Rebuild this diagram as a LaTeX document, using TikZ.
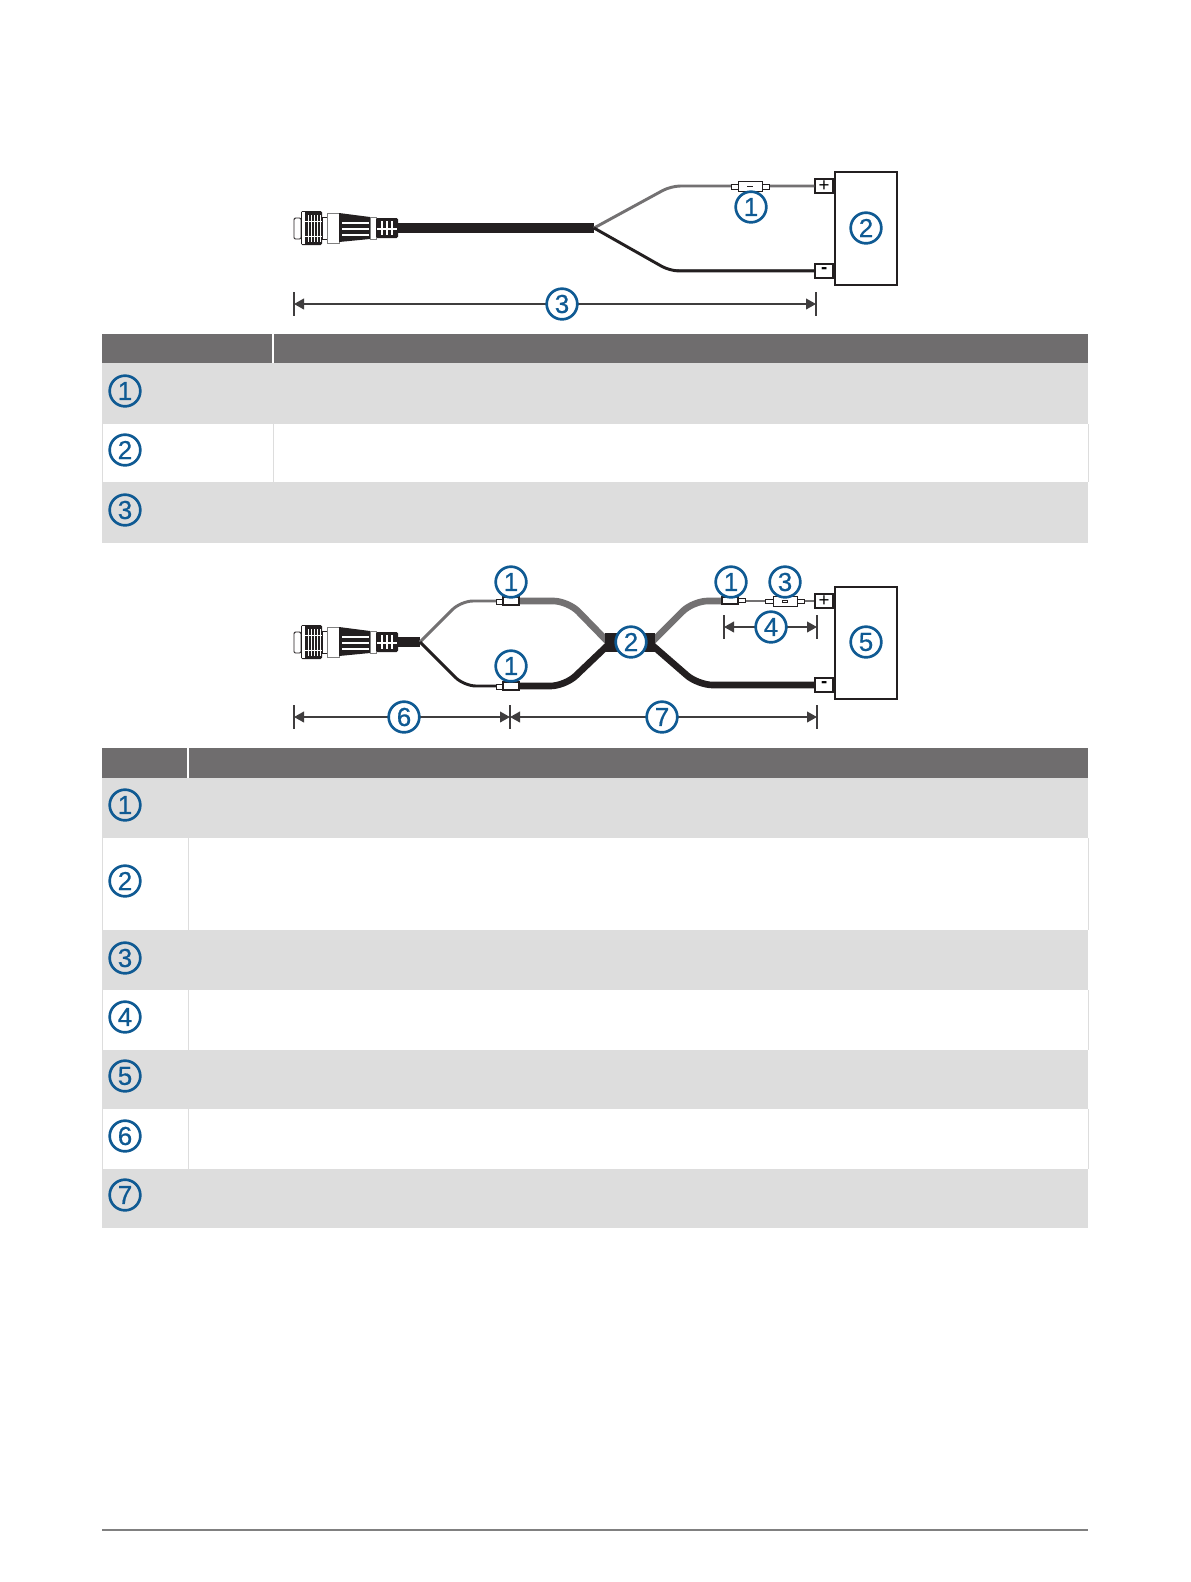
\documentclass[tikz,border=0pt]{standalone}
\usepackage{fontspec}
\setmainfont{Liberation Sans}
\newfontfamily\calloutfont[FakeBold=0.7]{Liberation Sans}
\usetikzlibrary{arrows.meta}
\definecolor{calloutblue}{HTML}{0F5A93}
\definecolor{headgray}{HTML}{6F6D6E}
\definecolor{rowgray}{HTML}{DDDDDD}
\definecolor{wiregray}{HTML}{737172}
\definecolor{wireblack}{HTML}{231F20}
\definecolor{dimgray}{HTML}{3F3D3E}
\tikzset{
  callout/.style={circle,draw=calloutblue,line width=2pt,text=calloutblue,minimum size=23pt,inner sep=0pt,font=\calloutfont\fontsize{19.5}{19.5}\selectfont},
  calloutw/.style={callout,fill=white},
  dimline/.style={draw=dimgray,line width=1.4pt,{Triangle[length=7.5pt,width=8pt]}-{Triangle[length=7.5pt,width=8pt]}},
  dimtick/.style={draw=dimgray,line width=1.3pt},
  devbox/.style={draw=wireblack,line width=1.4pt,fill=white,inner sep=0pt,minimum width=46.5pt},
  termbox/.style={draw=wireblack,line width=1.3pt,fill=white,inner sep=0pt,minimum width=13.5pt,minimum height=11pt,font=\fontsize{14}{14}\selectfont},
  fusepart/.style={draw=wireblack,line width=.7pt,fill=white},
  thinwire/.style={line width=2.2pt,rounded corners=7pt},
  midwire/.style={line width=2.2pt,rounded corners=9pt},
  thickwire/.style={line width=5pt,rounded corners=11pt},
  sleeve/.style={fill=wireblack,draw=none,inner sep=0pt},
}
\newcommand{\plugat}[2]{%
\begin{scope}[shift={(#1,#2)}]
  \draw[wireblack,line width=.7pt,fill=white,rounded corners=1pt] (0,-10) rectangle (7,11);
  \fill[wireblack,rounded corners=1pt] (7,-17) rectangle (28,17);
  \fill[white] (8,-16) rectangle (11,16);
  \foreach \xx in {14,17,20,23,26}{\draw[white,line width=.4pt] (\xx,-13) -- (\xx,14);}
  \draw[white,line width=.4pt] (11,-7) -- (28,-7) (11,8) -- (28,8);
  \draw[wireblack,line width=.7pt,fill=white] (28,-11) rectangle (33,11);
  \draw[gray,line width=.7pt,fill=white] (33,-15) rectangle (45,15);
  \fill[wireblack] (45,-15) -- (76,-11) -- (76,11) -- (45,14) -- cycle;
  \foreach \yy in {-5,1,7}{\draw[white,line width=.9pt] (48,\yy) -- (75,\yy);}
  \draw[gray,line width=.7pt,fill=white] (76,-11) rectangle (82,11);
  \fill[wireblack,rounded corners=1pt] (82,-10) rectangle (104,10);
  \foreach \xx in {88,93,98}{\draw[white,line width=.8pt] (\xx,-7) -- (\xx,7);}
  \draw[white,line width=.8pt] (83,1) -- (103,1);
\end{scope}}
\begin{document}
\begin{tikzpicture}[x=.75pt,y=-.75pt]
\useasboundingbox (0,0) rectangle (1191,1582);
\fill[white] (0,0) rectangle (1191,1582);

% ---------- first diagram ----------
\plugat{294}{228}
\node[sleeve,minimum width=147pt,minimum height=8pt,anchor=west] (cableA) at (398,228) {};
\coordinate (splitA) at (594,228);
\node[devbox,minimum height=84.75pt,anchor=north west] (devA) at (834,171) {};
\node[termbox,anchor=east] (plusA) at (834,186) {+};
\node[termbox,anchor=east] (minusA) at (834,271) {\textbf{-}};
\coordinate (bendA1) at (671,186);
\coordinate (bendA2) at (670,271);
\draw[wiregray,thinwire] (splitA) -- (bendA1) -- (plusA.west);
\draw[wiregray,line width=1pt] ([yshift=1pt]bendA2) -- ([yshift=1pt]minusA.west);
\draw[wireblack,thinwire] (splitA) -- (bendA2) -- (minusA.west);
\draw[fusepart] (731,184) rectangle (769,189);
\draw[fusepart] (738,181) rectangle (762,191);
\draw[wireblack,line width=.7pt] (747,186) -- (753,186);
\coordinate (dA1) at (294,304);
\coordinate (dA2) at (816,304);
\draw[dimtick] (294,292) -- (294,316);
\draw[dimtick] (816,292) -- (816,316);
\draw[dimline] (dA1) -- (dA2);
\node[calloutw] (a3) at (562,304) {3};
\node[callout] (a1) at (751,207) {1};
\node[callout] (a2) at (866,228) {2};

% ---------- first table ----------
\fill[headgray] (102,334) rectangle (1088,363);
\fill[rowgray] (102,363) rectangle (1088,424);
\fill[rowgray] (102,482) rectangle (1088,543);
\draw[rowgray,line width=.7pt] (102,424) -- (102,482) (1088,424) -- (1088,482) (273,424) -- (273,482);
\draw[white,line width=1pt] (273,334) -- (273,363);
\node[callout] (ta1) at (125,391) {1};
\node[callout] (ta2) at (125,450) {2};
\node[callout] (ta3) at (125,510) {3};

% ---------- second diagram ----------
\plugat{294}{642}
\node[sleeve,minimum width=16.5pt,minimum height=7.5pt,anchor=west] (stemB) at (398,642) {};
\node[devbox,minimum height=84pt,anchor=north west] (devB) at (834,586) {};
\node[termbox,anchor=east] (plusB) at (834,601) {+};
\node[termbox,anchor=east] (minusB) at (834,685) {\textbf{-}};
\coordinate (forkB) at (420,642);
\coordinate (upB) at (461,601);
\coordinate (dnB) at (464,686);
\coordinate (f1) at (496,601);
\coordinate (f2) at (496,686);
\coordinate (t1) at (519,601);
\coordinate (t2) at (519,686);
\coordinate (mid1) at (608,642);
\coordinate (mid2) at (608,645);
\coordinate (bt1) at (568,601);
\coordinate (bt2) at (565,686);
\coordinate (mr1) at (652,642);
\coordinate (mr2) at (652,645);
\coordinate (br1) at (693,601);
\coordinate (br2) at (698,685);
\coordinate (k1) at (722,601);
\draw[wiregray,midwire] (forkB) -- (upB) -- (f1);
\draw[wireblack,midwire] (forkB) -- (dnB) -- (f2);
\draw[wiregray,thickwire] (t1) -- (bt1) -- (mid1);
\draw[wireblack,thickwire] (t2) -- (bt2) -- (mid2);
\draw[wiregray,thickwire] (mr1) -- (br1) -- (k1);
\draw[wireblack,thickwire] (mr2) -- (br2) -- (minusB.west);
\draw[wiregray,line width=2.2pt] (745,601) -- (plusB.west);
\node[sleeve,minimum width=37.5pt,minimum height=14pt,anchor=west] (sleeveB) at (605,642.5) {};
% inline joints
\draw[fusepart] (496,599) rectangle (503,604);
\draw[wireblack,line width=.9pt,fill=white] (503,597) rectangle (519,605);
\draw[fusepart] (496,684) rectangle (503,689);
\draw[wireblack,line width=.9pt,fill=white] (503,682) rectangle (519,690);
\draw[wireblack,line width=.9pt,fill=white] (722,597) rectangle (738,604);
\draw[fusepart] (738,598.5) rectangle (745,602.5);
\draw[fusepart] (765,599) rectangle (804,603);
\draw[fusepart] (773,596) rectangle (797,606);
\draw[fusepart] (782,600) rectangle (787,602);
% dimensions
\coordinate (dB1) at (294,717);
\coordinate (dB2) at (510,717);
\coordinate (dB3) at (817,717);
\coordinate (dC1) at (724,627);
\coordinate (dC2) at (817,627);
\draw[dimtick] (294,705) -- (294,729);
\draw[dimtick] (510,705) -- (510,729);
\draw[dimtick] (817,705) -- (817,729);
\draw[dimtick] (724,615) -- (724,639);
\draw[dimtick] (817,615) -- (817,639);
\draw[dimline] (dB1) -- (dB2);
\draw[dimline] (dB2) -- (dB3);
\draw[dimline] (dC1) -- (dC2);
\node[calloutw] (b6) at (404,717) {6};
\node[calloutw] (b7) at (662,717) {7};
\node[calloutw] (b4) at (771,627) {4};
\node[calloutw] (b2) at (631,642) {2};
\node[callout] (b1a) at (511,582) {1};
\node[callout] (b1b) at (511,666) {1};
\node[callout] (b1c) at (731,582) {1};
\node[callout] (b3) at (785,582) {3};
\node[callout] (b5) at (866,642) {5};

% ---------- second table ----------
\fill[headgray] (102,748) rectangle (1088,778);
\fill[rowgray] (102,778) rectangle (1088,838);
\fill[rowgray] (102,930) rectangle (1088,990);
\fill[rowgray] (102,1050) rectangle (1088,1109);
\fill[rowgray] (102,1169) rectangle (1088,1228);
\draw[white,line width=1pt] (188,748) -- (188,778);
\draw[rowgray,line width=.7pt] (102,838) -- (102,930) (188,838) -- (188,930) (1088,838) -- (1088,930);
\draw[rowgray,line width=.7pt] (102,990) -- (102,1050) (188,990) -- (188,1050) (1088,990) -- (1088,1050);
\draw[rowgray,line width=.7pt] (102,1109) -- (102,1169) (188,1109) -- (188,1169) (1088,1109) -- (1088,1169);
\node[callout] (tb1) at (125,805) {1};
\node[callout] (tb2) at (125,881) {2};
\node[callout] (tb3) at (125,958) {3};
\node[callout] (tb4) at (125,1017) {4};
\node[callout] (tb5) at (125,1076) {5};
\node[callout] (tb6) at (125,1136) {6};
\node[callout] (tb7) at (125,1195) {7};

% ---------- footer rule ----------
\draw[gray,line width=.8pt] (102,1530) -- (1088,1530);
\end{tikzpicture}
\end{document}
